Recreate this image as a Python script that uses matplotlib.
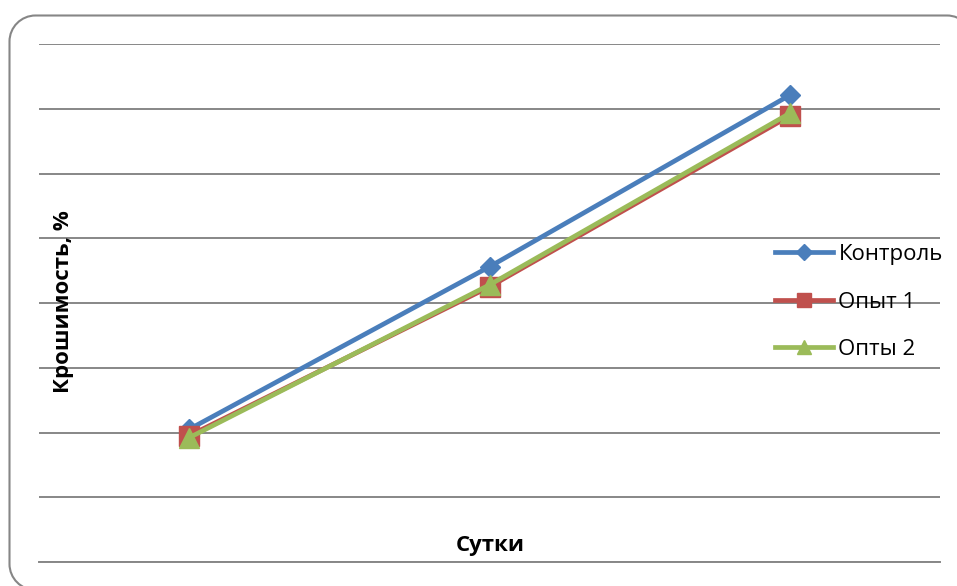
import matplotlib
matplotlib.use("Agg")
import matplotlib.pyplot as plt
from matplotlib.patches import PathPatch
from matplotlib.path import Path
from matplotlib.transforms import IdentityTransform

# crumbliness by day, three groups
days = ["1", "2", "3"]
control = [2.05, 4.56, 7.21]
trial_1 = [1.95, 4.25, 6.89]
trial_2 = [1.92, 4.28, 6.93]
series_names = ["Контроль", "Опыт 1", "Опты 2"]

FONT = ["Open Sans", "DejaVu Sans"]
W, H = 957, 586

fig = plt.figure(figsize=(W / 100, H / 100), dpi=100)
ax = fig.add_axes([39 / W, (H - 562) / H, (940 - 39) / W, (562 - 44) / H])

x = range(len(days))
ax.plot(x, control, color="#4A7EBB", lw=3.4, marker="D", ms=10.5,
        label=series_names[0], zorder=3)
ax.plot(x, trial_1, color="#C0504D", lw=3.4, marker="s", ms=14,
        label=series_names[1], zorder=4)
ax.plot(x, trial_2, color="#9BBB59", lw=3.4, marker="^", ms=14,
        label=series_names[2], zorder=5)

ax.set_xlim(-0.5, len(days) - 0.5)
ax.set_ylim(0, 8)
ax.set_yticks(range(0, 9))
ax.yaxis.grid(True, color="#878787", lw=1.4)
ax.set_axisbelow(True)
ax.tick_params(left=False, bottom=False, labelleft=False, labelbottom=False)
for side in ["left", "right", "top"]:
    ax.spines[side].set_visible(False)
ax.spines["bottom"].set_color("#878787")
ax.spines["bottom"].set_linewidth(1.4)

# legend sits inside the plot, right side, centred near y=301px
leg = ax.legend(loc="center left", bbox_to_anchor=((777 - 39) / (940 - 39) - 0.012, (562 - 302) / (562 - 44)),
                frameon=False, prop={"family": FONT, "size": 16},
                handlelength=2.6, handletextpad=0.25, labelspacing=1.2,
                markerscale=0.75, borderaxespad=0)

fig.text(63 / W, 1 - 302 / H, "Крошимость, %", rotation=90, ha="center", va="center",
         family=FONT, fontsize=16, fontweight="bold")
fig.text(490 / W, 1 - 545 / H, "Сутки", ha="center", va="center",
         family=FONT, fontsize=16, fontweight="bold")

# rounded chart border (pixel coords), running off the right and bottom edges
left, right, top, bottom, r = 9.5, 973.0, H - 15.5, H - 590.0, 26.0
k = 0.5523 * r
verts = [
    (right, bottom),
    (left + r, bottom),
    (left + r - k, bottom), (left, bottom + r - k), (left, bottom + r),
    (left, top - r),
    (left, top - r + k), (left + r - k, top), (left + r, top),
    (right - r, top),
    (right - r + k, top), (right, top - r + k), (right, top - r),
    (right, bottom),
]
codes = [Path.MOVETO, Path.LINETO,
         Path.CURVE4, Path.CURVE4, Path.CURVE4,
         Path.LINETO,
         Path.CURVE4, Path.CURVE4, Path.CURVE4,
         Path.LINETO,
         Path.CURVE4, Path.CURVE4, Path.CURVE4,
         Path.LINETO]
border = PathPatch(Path(verts, codes), transform=IdentityTransform(),
                   fill=False, edgecolor="#868686", lw=1.5)
fig.add_artist(border)

fig.savefig("out.png", dpi=100)
